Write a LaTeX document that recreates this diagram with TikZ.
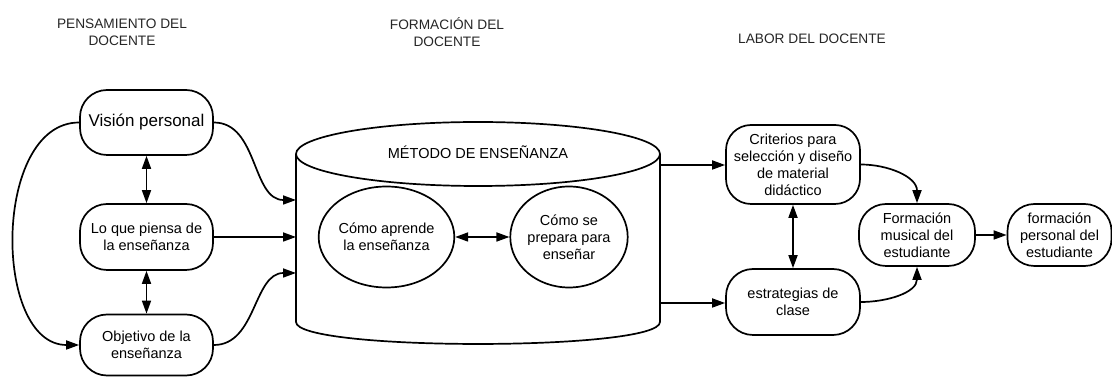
\documentclass[tikz,border=0pt]{standalone}
\usepackage{fontspec}
\setmainfont{Liberation Sans}
\usetikzlibrary{arrows.meta,shapes.geometric}
\begin{document}
\begin{tikzpicture}[x=1pt,y=1pt,
  line width=1.7pt,
  >={Triangle[length=13pt,width=9pt]},
  txt/.style={font=\fontsize{14.5}{17}\selectfont, align=center},
  ttl/.style={font=\fontsize{13.7}{17}\selectfont, align=center, text=black!85},
  rbox/.style={draw, rounded corners=27pt, txt, inner sep=0pt},
  ebox/.style={draw, ellipse, txt, inner sep=0pt}
]
\useasboundingbox (0,0) rectangle (1112,377);
% titles
\node[ttl] (t1) at (122,345) {PENSAMIENTO DEL\\DOCENTE};
\node[ttl] (t2) at (447,345) {FORMACIÓN DEL\\DOCENTE};
\node[ttl] (t3) at (812,338) {LABOR DEL DOCENTE};
% left column
\node[rbox, minimum width=133pt, minimum height=65pt, font=\fontsize{17}{20}\selectfont] (vis) at (146.5,254.5) {Visión personal};
\node[rbox, minimum width=133pt, minimum height=66pt] (lo) at (146.5,140) {Lo que piensa de\\la enseñanza};
\node[rbox, minimum width=133pt, minimum height=61pt] (obj) at (146.5,32) {Objetivo de la\\enseñanza};
% cylinder
\draw (296,223) -- (296,55) .. controls (296,25.7) and (660,25.7) .. (660,55) -- (660,223);
\draw[fill=white] (478,223) ellipse [x radius=182, y radius=32];
\node[txt] (met) at (478,225) {MÉTODO DE ENSEÑANZA};
\coordinate (cA) at (296,177);
\coordinate (cB) at (296,140);
\coordinate (cC) at (296,104);
\coordinate (cD) at (660,212);
\coordinate (cE) at (660,74);
\node[ebox, minimum width=115pt, minimum height=101pt] (ap) at (386.5,140) {Cómo aprende\\la enseñanza};
\node[ebox, minimum width=116pt, minimum height=101pt] (pr) at (569,140) {Cómo se\\prepara para\\enseñar};
% right column
\node[rbox, rounded corners=25pt, minimum width=134pt, minimum height=79pt] (cri) at (793,212.5) {Criterios para\\selección y diseño\\de material\\didáctico};
\node[rbox, minimum width=134pt, minimum height=66pt] (est) at (793,75) {estrategias de\\clase};
\node[rbox, minimum width=116pt, minimum height=62pt] (fm) at (917,142) {Formación\\musical del\\estudiante};
\node[rbox, minimum width=104pt, minimum height=62pt] (fp) at (1059.5,142) {formación\\personal del\\estudiante};
% connectors
\draw[<->] (vis) -- (lo);
\draw[<->] (lo) -- (obj);
\draw[->] (vis.west) to[out=180,in=180] (obj.west);
\draw[->] (vis.east) to[out=0,in=180] (cA);
\draw[->] (lo.east) -- (cB);
\draw[->] (obj.east) to[out=0,in=180] (cC);
\draw[<->] (ap) -- (pr);
\draw[->] (cD) -- (cri.west |- cD);
\draw[->] (cE) -- (est.west |- cE);
\draw[<->] (cri) -- (est);
\draw[->] (cri.east) to[out=0,in=90] (fm.north);
\draw[->] (est.east) to[out=0,in=-90] (fm.south);
\draw[->] (fm) -- (fp);
\end{tikzpicture}
\end{document}
